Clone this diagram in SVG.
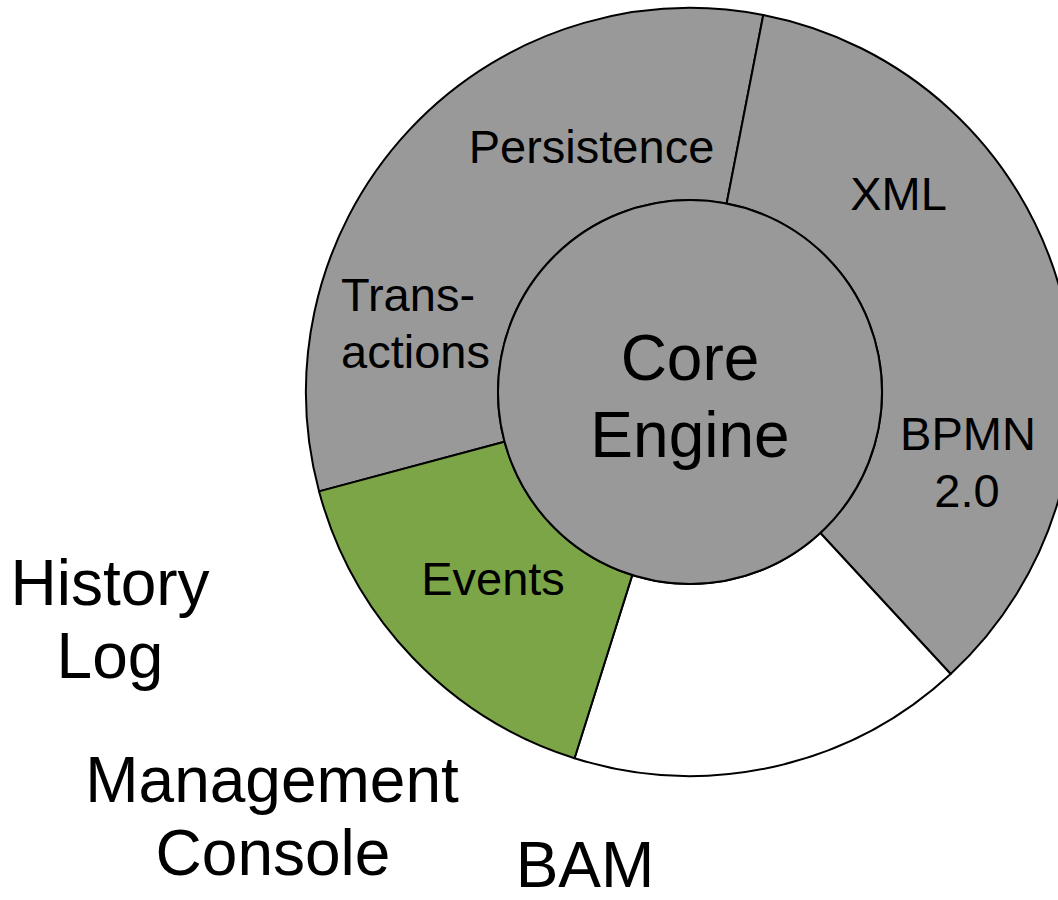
<svg xmlns="http://www.w3.org/2000/svg" width="1058" height="900" viewBox="0 0 1058 900">
  <style>
    .seg { stroke: #000; stroke-width: 2; stroke-linejoin: round; }
    .gray { fill: #999999; }
    .green { fill: #7ca547; }
    .white { fill: #ffffff; }
    text { font-family: "Liberation Sans", Arial, sans-serif; fill: #000; }
    .ring { font-size: 47px; }
    .big { font-size: 64px; }
    .mid { text-anchor: middle; }
  </style>
  <rect x="0" y="0" width="1058" height="900" fill="#ffffff"/>
  <g id="ring-left">
    <path class="seg gray" d="M 319.08 491.39 A 384 384 0 0 1 763.27 15.05 L 726.64 203.53 A 192 192 0 0 0 504.54 441.69 Z"/>
    <text class="ring mid" x="591.5" y="163">Persistence</text>
    <text class="ring" x="341" y="311">Trans-</text>
    <text class="ring" x="341" y="368">actions</text>
  </g>
  <g id="ring-right">
    <path class="seg gray" d="M 763.27 15.05 A 384 384 0 0 1 950.66 673.98 L 820.33 532.99 A 192 192 0 0 0 726.64 203.53 Z"/>
    <text class="ring mid" x="898.5" y="210">XML</text>
    <text class="ring mid" x="968" y="450">BPMN</text>
    <text class="ring mid" x="967" y="507">2.0</text>
  </g>
  <g id="ring-white">
    <path class="seg white" d="M 950.66 673.98 A 384 384 0 0 1 574.53 758.23 L 632.26 575.11 A 192 192 0 0 0 820.33 532.99 Z"/>
  </g>
  <g id="events">
    <path class="seg green" d="M 574.53 758.23 A 384 384 0 0 1 319.08 491.39 L 504.54 441.69 A 192 192 0 0 0 632.26 575.11 Z"/>
    <text class="ring mid" x="493" y="595">Events</text>
  </g>
  <g id="core-engine">
    <circle class="seg gray" cx="690" cy="392" r="192"/>
    <text class="big mid" x="690" y="380">Core</text>
    <text class="big mid" x="690" y="457">Engine</text>
  </g>
  <g id="history-log">
    <text class="big mid" x="110" y="605">History</text>
    <text class="big mid" x="110" y="678">Log</text>
  </g>
  <g id="management-console">
    <text class="big mid" x="272" y="802">Management</text>
    <text class="big mid" x="273" y="875">Console</text>
  </g>
  <g id="bam">
    <text class="big mid" x="585" y="887">BAM</text>
  </g>
  <g id="connectors"></g>
</svg>
